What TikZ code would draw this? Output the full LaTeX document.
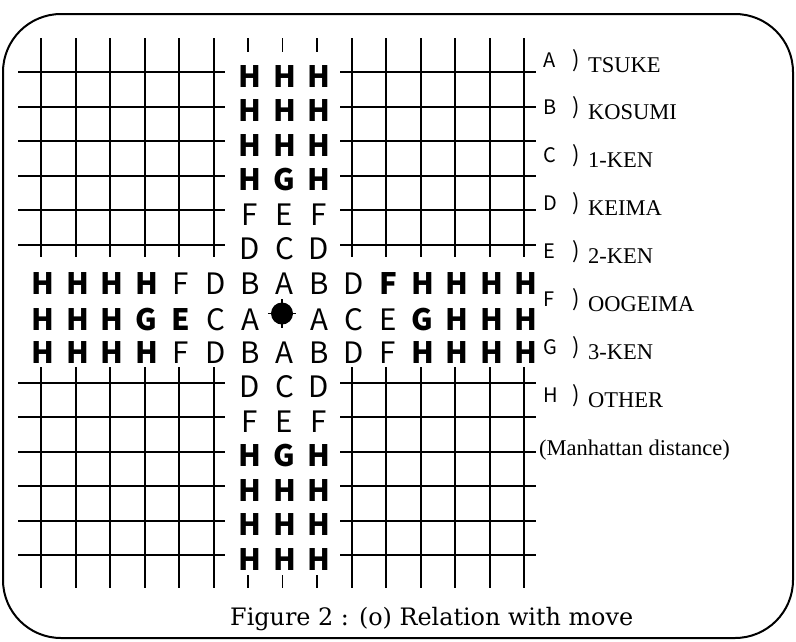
\documentclass[tikz,border=0pt]{standalone}
\usepackage{fontspec}
\newfontfamily\jp{Noto Sans CJK JP}
\newfontfamily\tms{Liberation Serif}
\newfontfamily\capf{DejaVu Serif}
\newcommand\B[1]{{\bfseries #1}}
\tikzset{
  gridline/.style={line width=2pt},
  tickline/.style={line width=1.7pt},
  lett/.style={anchor=base, inner sep=0pt, font=\jp\fontsize{29.5}{30}\selectfont},
  lablet/.style={anchor=base west, inner sep=0pt, font=\jp\fontsize{20}{20}\selectfont},
  labpar/.style={anchor=base, inner sep=0pt, font=\jp\fontsize{22}{22}\selectfont},
  labword/.style={anchor=base west, inner sep=0pt, font=\tms\fontsize{22.5}{22.5}\selectfont},
}
\begin{document}
\begin{tikzpicture}[x=1pt,y=-1pt]
\useasboundingbox (0,0) rectangle (796,641);
% outer frame
\draw[line width=2pt, rounded corners=58pt] (3,14) rectangle (793,638);
% grid
\foreach \i in {0,1,2,3,4,5,9,10,11,12,13,14} {
  \draw[gridline] ({41+34.5*\i},38) -- ({41+34.5*\i},257);
  \draw[gridline] ({41+34.5*\i},367) -- ({41+34.5*\i},588);
  \draw[gridline] (18,{72+34.5*\i}) -- (225,{72+34.5*\i});
  \draw[gridline] (340,{72+34.5*\i}) -- (536,{72+34.5*\i});
}
\foreach \i in {6,7,8} {
  \draw[tickline] ({41+34.5*\i},38) -- ({41+34.5*\i},52);
  \draw[tickline] ({41+34.5*\i},575) -- ({41+34.5*\i},588);
}
% middle columns letters
\foreach \r/\a/\b/\c in {0/\B H/\B H/\B H,1/\B H/\B H/\B H,2/\B H/\B H/\B H,3/\B H/\B G/\B H,4/F/E/F,5/D/C/D,
                         9/D/C/D,10/F/E/F,11/\B H/\B G/\B H,12/\B H/\B H/\B H,13/\B H/\B H/\B H,14/\B H/\B H/\B H} {
  \node[lett] (m\r a) at ({43+34.5*6},{72+34.5*\r+15}) {\a};
  \node[lett] (m\r b) at ({43+34.5*7},{72+34.5*\r+15}) {\b};
  \node[lett] (m\r c) at ({43+34.5*8},{72+34.5*\r+15}) {\c};
}
% middle rows letters
\foreach \t [count=\i from 0] in {\B H,\B H,\B H,\B H,F,D,B,A,B,D,\B F,\B H,\B H,\B H,\B H}
  \node[lett] (rsix\i) at ({43+34.5*\i},{72+34.5*6+15}) {\t};
\foreach \t [count=\i from 0] in {\B H,\B H,\B H,\B G,\B E,C,A}
  \node[lett] (rseva\i) at ({43+34.5*\i},{72+34.5*7+17}) {\t};
\foreach \t [count=\i from 8] in {A,C,E,\B G,\B H,\B H,\B H}
  \node[lett] (rsevb\i) at ({43+34.5*\i},{72+34.5*7+17}) {\t};
\foreach \t [count=\i from 0] in {\B H,\B H,\B H,\B H,F,D,B,A,B,D,F,\B H,\B H,\B H,\B H}
  \node[lett] (reig\i) at ({43+34.5*\i},{72+34.5*8+15}) {\t};
% stone
\node[circle, fill=black, minimum size=22pt, inner sep=0pt] (stone) at (282,313.5) {};
\draw[line width=1.6pt] ([xshift=-3pt]stone.west) -- ([xshift=3pt]stone.east);
\draw[line width=1.6pt] ([yshift=3pt]stone.north) -- ([yshift=-3pt]stone.south);
% legend
\foreach \l/\w [count=\k from 0] in {A/TSUKE,B/KOSUMI,C/1-KEN,D/KEIMA,E/2-KEN,F/OOGEIMA,G/3-KEN,H/OTHER} {
  \node[lablet] (la\k) at (543,{72+47.9*\k-5}) {\l};
  \node[labpar] (lp\k) at (576,{72+47.9*\k-5}) {)};
  \node[labword] (lw\k) at (588,{72+47.9*\k}) {\w};
}
\node[labword] (md) at (539,455) {(Manhattan distance)};
% caption
\node[anchor=base west, inner sep=0pt, font=\capf\fontsize{24}{24}\selectfont] (cap) at (230,625)
  {\resizebox{403pt}{\height}{Figure 2 : (o) Relation with move}};
\end{tikzpicture}
\end{document}
